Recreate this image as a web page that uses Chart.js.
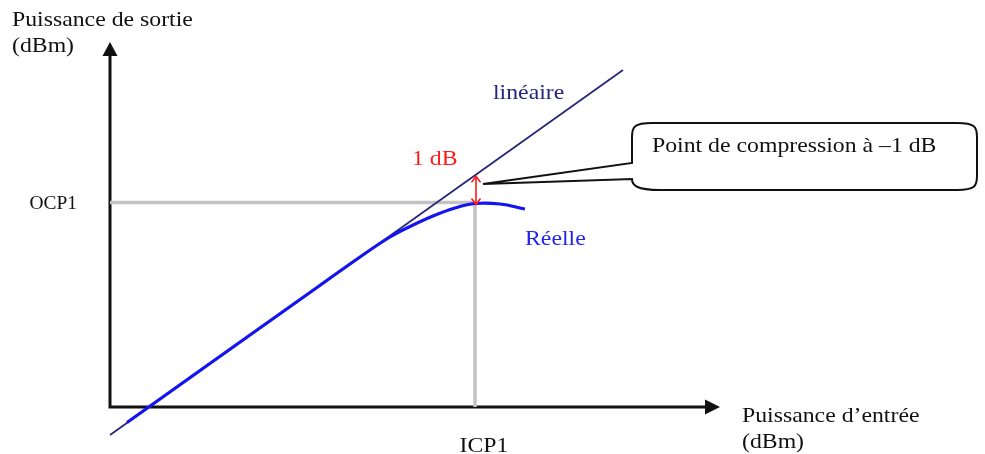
<!DOCTYPE html>
<html><head><meta charset="utf-8">
<script src="https://cdn.jsdelivr.net/npm/chart.js@4/dist/chart.umd.min.js"></script>
<style>html,body{margin:0;padding:0;background:#fff}canvas{display:block}</style>
</head><body>
<canvas id="c" width="985" height="454"></canvas>
<script>
// ---- data (schematic units, dBm) ----
const linearX = [0, 51.3];
const linearY = [-2.8, 33.7];
const realX = [1.7, 9, 19, 25, 28, 30, 32.3, 34.5, 36.5, 39, 41.5];
const realY = [-1.55, 3.65, 10.75, 15.0, 17.0, 18.05, 19.1, 19.9, 20.35, 20.3, 19.8];
const icp1 = 36.5;
const ocp1 = 20.45;
const xTickLabels = ['ICP1'];
const yTickLabels = ['OCP1'];
const xAxisTitle = ['Puissance d’entrée', '(dBm)'];
const yAxisTitle = ['Puissance de sortie', '(dBm)'];
const seriesLabels = ['linéaire', 'Réelle'];
const compressionLabel = '1 dB';
const calloutText = 'Point de compression à –1 dB';
const xAxisEnd = 61;
const yAxisEnd = 36.5;

const pts = (xs, ys) => xs.map((x, i) => ({x, y: ys[i]}));
const linearAt = x => linearY[0] + (linearY[1]-linearY[0])*(x-linearX[0])/(linearX[1]-linearX[0]);

const FONT = '"Liberation Serif", "Times New Roman", serif';
function txt(ctx, s, x, y, size, color, align, sx) {
  align = align || 'left'; sx = sx || 1.08;
  ctx.save();
  ctx.font = size + 'px ' + FONT;
  ctx.fillStyle = color;
  ctx.textBaseline = 'alphabetic';
  ctx.textAlign = 'left';
  const w = ctx.measureText(s).width * sx;
  const x0 = align === 'center' ? x - w/2 : align === 'right' ? x - w : x;
  ctx.translate(x0, y); ctx.scale(sx, 1);
  ctx.fillText(s, 0, 0);
  ctx.restore();
}

const axesPlugin = {
  id: 'axesPlugin',
  beforeDatasetsDraw(chart) {
    const {ctx, scales: {x: xs, y: ys}} = chart;
    const ox = xs.getPixelForValue(0), oy = ys.getPixelForValue(0);
    const xe = xs.getPixelForValue(xAxisEnd), ye = ys.getPixelForValue(yAxisEnd);
    ctx.save();
    ctx.strokeStyle = '#111'; ctx.fillStyle = '#111'; ctx.lineWidth = 3;
    ctx.beginPath();
    ctx.moveTo(ox, oy + 1.5); ctx.lineTo(ox, ye + 10);
    ctx.moveTo(ox - 1.5, oy); ctx.lineTo(xe - 10, oy);
    ctx.stroke();
    ctx.beginPath();
    ctx.moveTo(ox, ye); ctx.lineTo(ox - 7.5, ye + 14); ctx.lineTo(ox + 7.5, ye + 14); ctx.closePath();
    ctx.fill();
    ctx.beginPath();
    ctx.moveTo(xe, oy); ctx.lineTo(xe - 15, oy - 7.5); ctx.lineTo(xe - 15, oy + 7.5); ctx.closePath();
    ctx.fill();
    ctx.restore();
  },
  afterDatasetsDraw(chart) {
    const {ctx, scales: {x: xs, y: ys}} = chart;
    const ox = xs.getPixelForValue(0), oy = ys.getPixelForValue(0);
    const xe = xs.getPixelForValue(xAxisEnd);
    // axis titles
    txt(ctx, yAxisTitle[0], 12, 26, 22, '#111');
    txt(ctx, yAxisTitle[1], 12, 52, 22, '#111');
    txt(ctx, xAxisTitle[0], xe + 22, oy + 15, 22, '#111');
    txt(ctx, xAxisTitle[1], xe + 22, oy + 41, 22, '#111');
    // tick labels
    txt(ctx, yTickLabels[0], ox - 33, ys.getPixelForValue(ocp1) + 6, 18, '#111', 'right');
    txt(ctx, xTickLabels[0], xs.getPixelForValue(icp1) + 9, oy + 45, 22, '#111', 'center');
    // series labels
    txt(ctx, seriesLabels[0], xs.getPixelForValue(38.3), ys.getPixelForValue(30.8), 22, '#24247e');
    txt(ctx, seriesLabels[1], xs.getPixelForValue(41.5), ys.getPixelForValue(16.2), 22, '#2424ee');
    // 1 dB arrow
    const ax = xs.getPixelForValue(icp1 + 0.1);
    const yTop = ys.getPixelForValue(linearAt(icp1)) + 1;
    const yBot = ys.getPixelForValue(realY[realX.indexOf(icp1)]) + 1;
    ctx.save();
    ctx.strokeStyle = '#ff1a1a'; ctx.lineWidth = 1.6;
    ctx.beginPath();
    ctx.moveTo(ax, yTop); ctx.lineTo(ax, yBot);
    ctx.moveTo(ax - 4.5, yTop + 6); ctx.lineTo(ax, yTop); ctx.lineTo(ax + 4.5, yTop + 6);
    ctx.moveTo(ax - 4.5, yBot - 6); ctx.lineTo(ax, yBot); ctx.lineTo(ax + 4.5, yBot - 6);
    ctx.stroke();
    ctx.restore();
    txt(ctx, compressionLabel, ax - 64, ys.getPixelForValue(24.2), 22, '#ff1a1a');
    // callout
    const tipX = xs.getPixelForValue(icp1 + 0.8), tipY = ys.getPixelForValue(22.3);
    const L = 632, T = 123, R = 977, B = 190, r = 14;
    ctx.save();
    ctx.strokeStyle = '#111'; ctx.lineWidth = 2; ctx.fillStyle = '#fff';
    ctx.beginPath();
    ctx.moveTo(L + r + 6, T);
    ctx.lineTo(R - r - 6, T);
    ctx.bezierCurveTo(R - 2, T, R, T + 4, R, T + r);
    ctx.lineTo(R, B - r);
    ctx.bezierCurveTo(R, B - 4, R - 2, B, R - r - 6, B);
    ctx.lineTo(L + r + 14, B);
    ctx.bezierCurveTo(L + 4, B, L, B - 5, L, B - 11);
    ctx.lineTo(tipX, tipY);
    ctx.lineTo(L, B - 27);
    ctx.lineTo(L, T + r);
    ctx.bezierCurveTo(L, T + 4, L + 2, T, L + r + 6, T);
    ctx.closePath();
    ctx.fill(); ctx.stroke();
    ctx.restore();
    txt(ctx, calloutText, L + 20, T + 29, 22, '#111');
  }
};

new Chart(document.getElementById('c'), {
  type: 'line',
  data: {
    datasets: [
      { label: 'OCP1', data: pts([0, icp1], [ocp1, ocp1]), borderColor: '#c3c3c3', borderWidth: 3.5, pointRadius: 0, order: 4 },
      { label: 'ICP1', data: pts([icp1, icp1], [ocp1, 0]), borderColor: '#c3c3c3', borderWidth: 3.5, pointRadius: 0, order: 3 },
      { label: seriesLabels[0], data: pts(linearX, linearY), borderColor: '#28287a', borderWidth: 1.8, pointRadius: 0, order: 2 },
      { label: seriesLabels[1], data: pts(realX, realY), borderColor: '#1414f0', borderWidth: 3.2, pointRadius: 0, tension: 0.4, order: 1 }
    ]
  },
  options: {
    responsive: false,
    animation: false,
    devicePixelRatio: 1,
    layout: { padding: 0 },
    plugins: { legend: { display: false }, tooltip: { enabled: false } },
    scales: {
      x: { type: 'linear', display: false, min: -11, max: 87.5 },
      y: { type: 'linear', display: false, min: -4.7, max: 40.7 }
    },
    elements: { line: { borderCapStyle: 'butt' } }
  },
  plugins: [axesPlugin]
});
</script>
</body></html>
